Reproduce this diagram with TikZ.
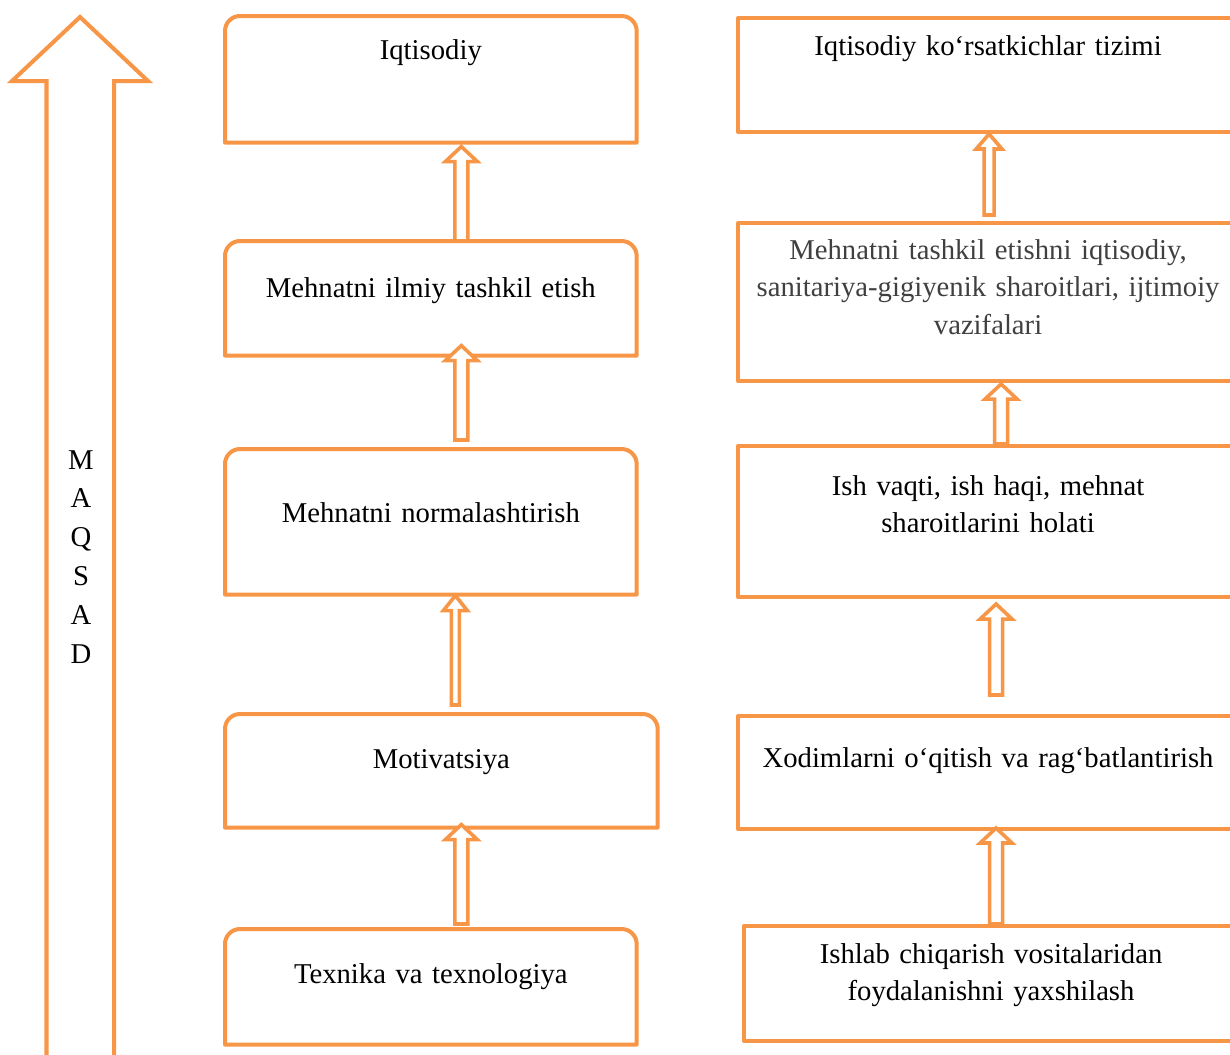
\documentclass[tikz,border=0pt]{standalone}
\usepackage{fontspec}
\setmainfont{Liberation Serif}
\usepackage{tikz}
\usetikzlibrary{positioning, calc}
\definecolor{boxorange}{HTML}{F79646}
\def\px{0.025cm}
\tikzset{
    boxline/.style={draw=boxorange, line width=0.1cm, line join=round},
    boxtext/.style={inner sep=0, align=center, font=\fontsize{20.4}{26.7}\selectfont},
    lbox/.style={boxtext, anchor=north west},
    rbox/.style={boxtext, boxline, anchor=north west},
    shafthalf/.store in=\shafthw, shafthalf=6.5,
    headhalf/.store in=\headhw, headhalf=16,
    hollow/.style={draw=boxorange, line width=0.09cm, fill=white, line join=miter,
        to path={let \p1 = (\tikztostart), \p2 = (\tikztotarget) in
            (\x1-\shafthw*\px, \y1) -- (\x1-\shafthw*\px, \y2-15*\px)
            -- (\x1-\headhw*\px, \y2-15*\px) -- (\x1, \y2)
            -- (\x1+\headhw*\px, \y2-15*\px) -- (\x1+\shafthw*\px, \y2-15*\px)
            -- (\x1+\shafthw*\px, \y1) -- cycle}}
}
\begin{document}
\begin{tikzpicture}[x=\px, y=-\px]
    \useasboundingbox (0,0) rectangle (1230,1054);
    \clip (0,0) rectangle (1230,1054);

    % big arrow on the left
    \draw[boxline, line join=miter] (46.5,1060) -- (46.5,81) -- (12,81) -- (80,17)
        -- (148,81) -- (114,81) -- (114,1060);
    \node[boxtext, anchor=base, text width=1cm, font=\fontsize{20.4}{27.7}\selectfont]
        (maqsad) at (81,469) {M\\A\\Q\\S\\A\\D};

    % left column
    \node[lbox, text width=10.275cm, text height=1.075cm, text depth=2.075cm] (l1) at (225,16) {Iqtisodiy};
    \node[lbox, text width=10.275cm, text height=1.4cm, text depth=1.45cm] (l2) at (225,241) {Mehnatni ilmiy tashkil etish};
    \node[lbox, text width=10.275cm, text height=1.825cm, text depth=1.8cm] (l3) at (225,449) {Mehnatni normalashtirish};
    \node[lbox, text width=10.8cm, text height=1.35cm, text depth=1.475cm] (l4) at (225,714) {Motivatsiya};
    \node[lbox, text width=10.275cm, text height=1.35cm, text depth=1.525cm] (l5) at (225,929) {Texnika va texnologiya};

    \foreach \n in {l1,l2,l3,l4,l5}
    {
        \draw[boxline] (\n.south west) [rounded corners=0.375cm] -- (\n.north west)
            -- (\n.north east) [sharp corners] -- (\n.south east) -- cycle;
    }

    % right column
    \node[rbox, text width=12.5cm, text height=0.925cm, text depth=1.925cm] (r1) at (736,16) {Iqtisodiy ko‘rsatkichlar tizimi};
    \node[rbox, text=black!75, text width=12.5cm, text height=0.9cm, text depth=3.05cm] (r2) at (736,221)
        {Mehnatni tashkil etishni iqtisodiy,\\ sanitariya-gigiyenik sharoitlari, ijtimoiy\\ vazifalari};
    \node[rbox, text width=12.5cm, text height=1.225cm, text depth=2.55cm] (r3) at (736,444)
        {Ish vaqti, ish haqi, mehnat\\ sharoitlarini holati};
    \node[rbox, text width=12.5cm, text height=1.275cm, text depth=1.55cm] (r4) at (736,714)
        {Xodimlarni o‘qitish va rag‘batlantirish};
    \node[rbox, text width=12.35cm, text height=0.925cm, text depth=1.95cm] (r5) at (742,924)
        {Ishlab chiqarish vositalaridan\\ foydalanishni yaxshilash};

    % arrows, left
    \draw[hollow] ($(l2.north)+(30.5,0)$) to ($(l1.south)+(30.5,4)$);
    \draw[hollow] ($(l3.north)+(30.5,-9)$) to ($(l2.south)+(30.5,-10)$);
    \draw[hollow, shafthalf=4, headhalf=12] ($(l4.north)+(14,-9)$) to ($(l3.south)+(24.5,1)$);
    \draw[hollow] ($(l5.north)+(30.5,-5)$) to ($(l4.south)+(20,-3)$);

    % arrows, right
    \draw[hollow, shafthalf=5, headhalf=13] ($(r2.north)+(1,-6)$) to ($(r1.south)+(1,0)$);
    \draw[hollow] ($(r3.north)+(13,0)$) to ($(r2.south)+(13,1)$);
    \draw[hollow] ($(r4.north)+(8,-19)$) to ($(r3.south)+(8,5)$);
    \draw[hollow] ($(r5.north)+(5,0)$) to ($(r4.south)+(8,-3)$);
\end{tikzpicture}
\end{document}
